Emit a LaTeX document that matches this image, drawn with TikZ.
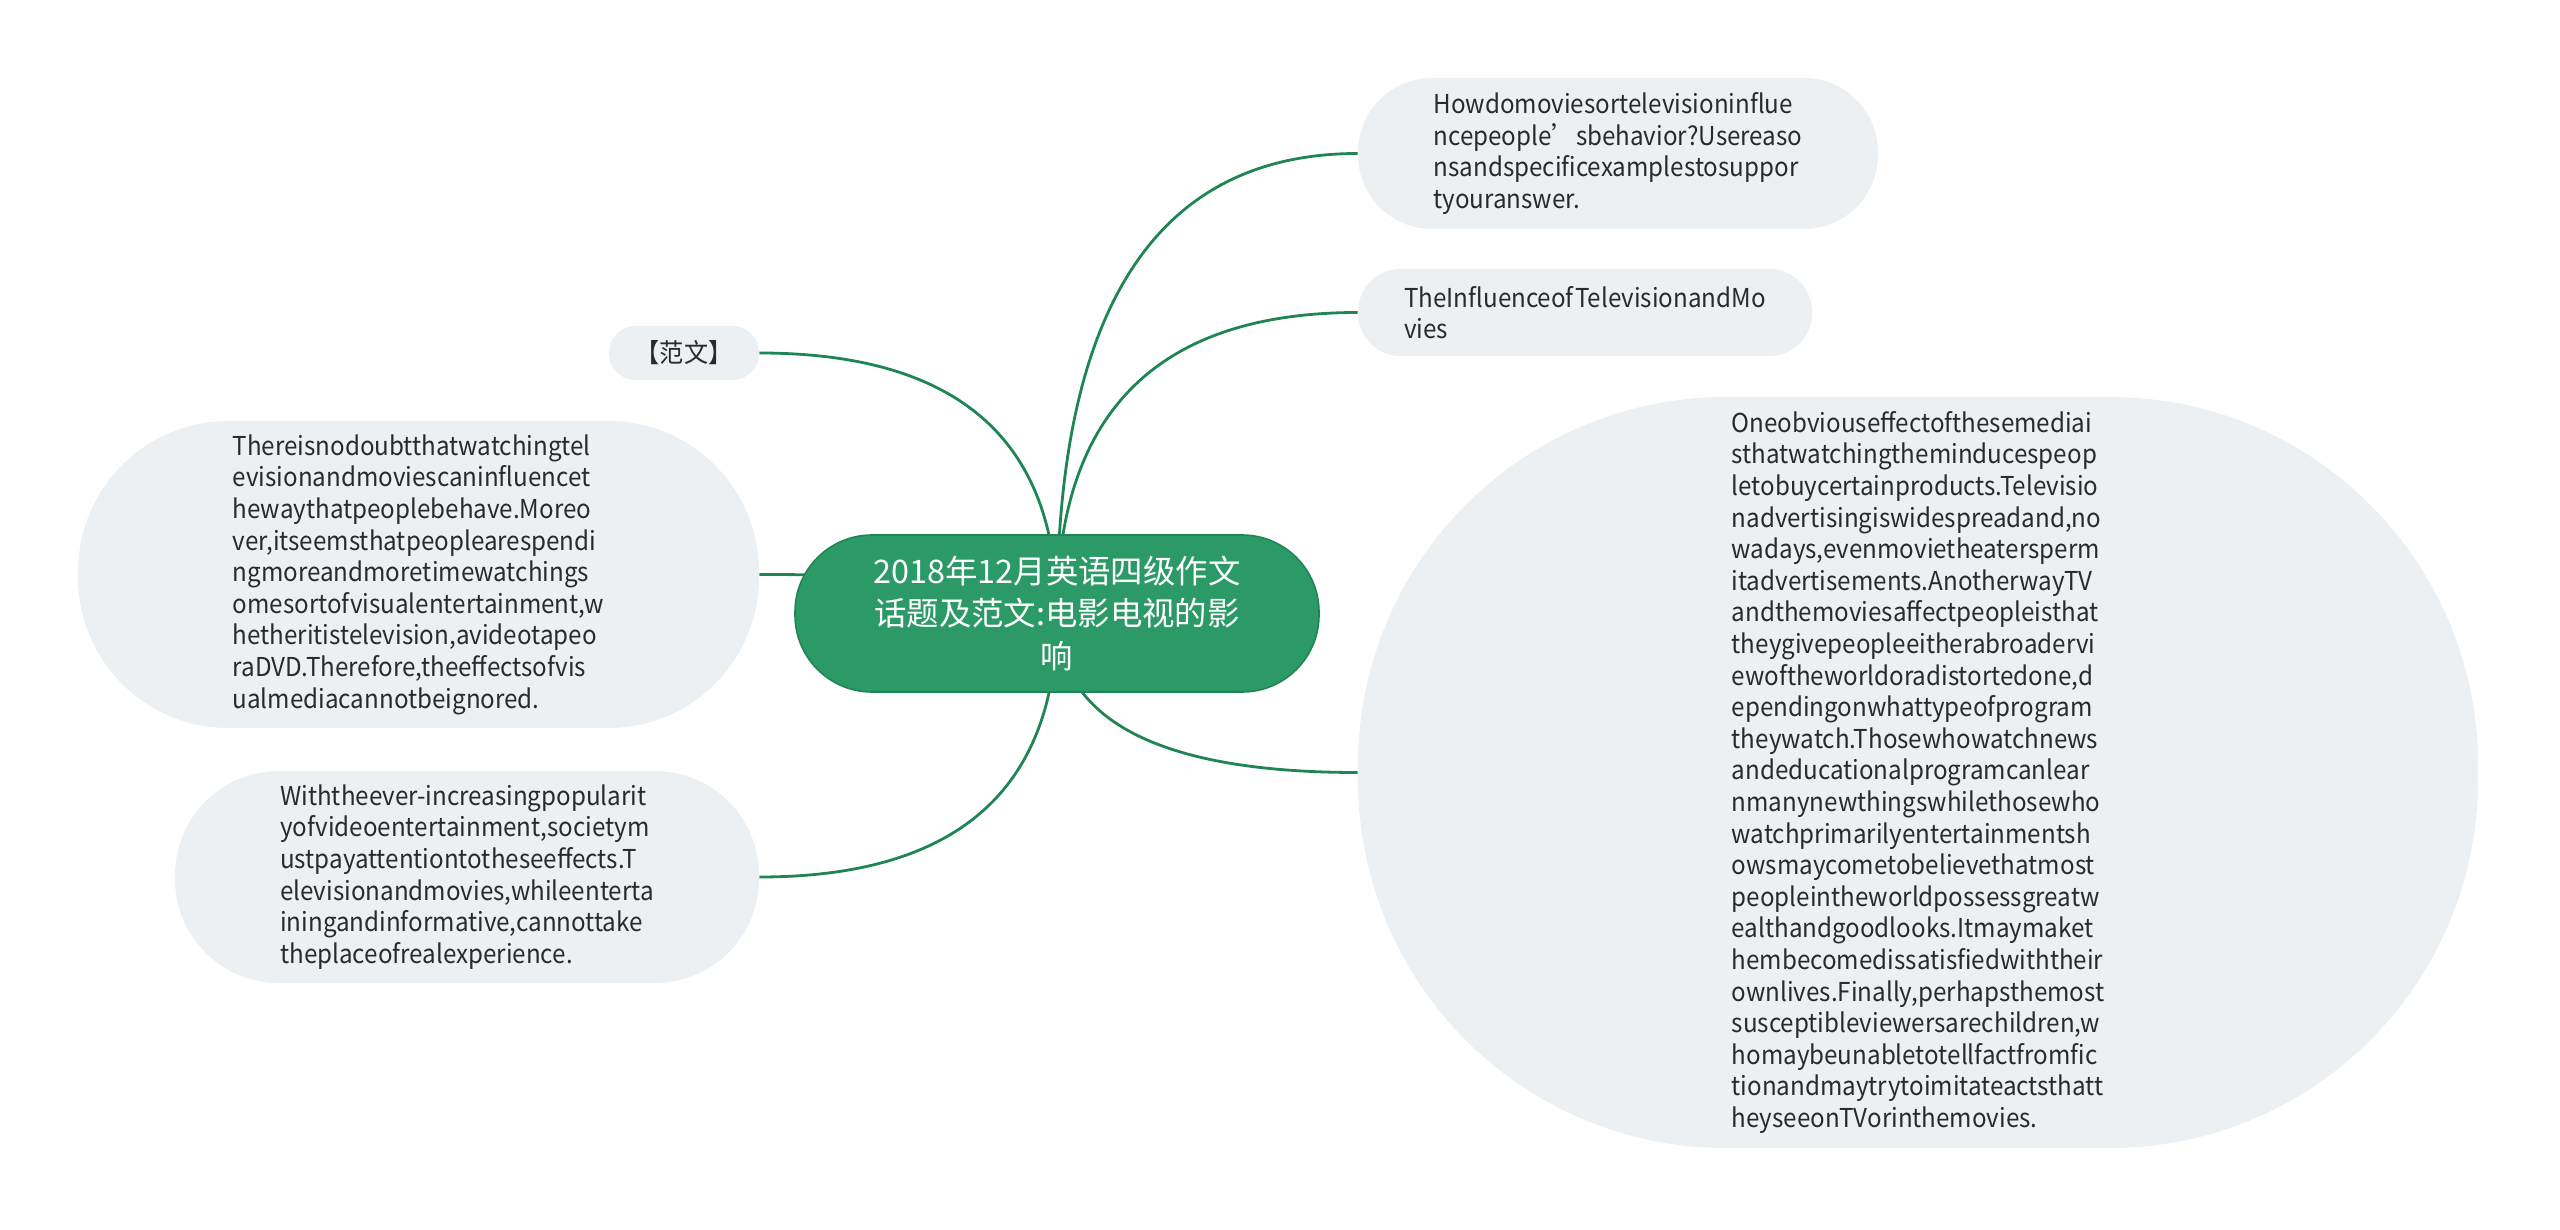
\documentclass[tikz,border=0pt]{standalone}
\usepackage{fontspec}
\setmainfont{Noto Sans CJK SC}
\newfontfamily\leaffont[FakeStretch=0.93]{Noto Sans CJK SC}
\usepackage{tikz}
\usetikzlibrary{calc,backgrounds}
\definecolor{Forest}{HTML}{2B9A66}
\definecolor{ForestDark}{HTML}{1F8553}
\definecolor{Mist}{HTML}{EDF0F3}
\definecolor{Ink}{HTML}{2A2A2A}
\newcommand{\twig}[2]{%
  \coordinate (bend) at (#1.center |- #2);
  \draw[branch] (#1.center) .. controls ($(#1.center)!0.6667!(bend)$) and ($(#2)!0.6667!(bend)$) .. (#2);}

\begin{document}
\begin{tikzpicture}[
  x=0.5pt,y=-0.5pt,
  hub/.style={fill=Forest,draw=ForestDark,line width=0.8pt,text=white,align=center,inner sep=0pt,
    font=\fontsize{16.2}{21.3}\selectfont,minimum width=262pt,minimum height=78.5pt,rounded corners=38.5pt},
  leaf/.style={fill=Mist,text=Ink,align=left,inner sep=0pt,font=\leaffont\fontsize{13}{15.8}\selectfont},
  pill/.style 2 args={minimum width=#1,minimum height=#2,rounded corners=0.49*#2},
  branch/.style={draw=ForestDark,line width=1.4pt}
]
\useasboundingbox (0,0) rectangle (2560,1230);
\node[hub] (hub) at (1057,613.5) {2018年12月英语四级作文\\话题及范文:电影电视的影\\响};
\node[leaf,pill={260pt}{75.5pt}] (ask) at (1618,153.5) {Howdomoviesortelevisioninflue\\ncepeople’sbehavior?Usereaso\\nsandspecificexamplestosuppor\\tyouranswer.};
\node[leaf,pill={227pt}{43.5pt}] (topic) at (1585,312.5) {TheInfluenceofTelevisionandMo\\vies};
\node[leaf,pill={560pt}{375.5pt}] (body) at (1918,772.5) {Oneobviouseffectofthesemediai\\sthatwatchingtheminducespeop\\letobuycertainproducts.Televisio\\nadvertisingiswidespreadand,no\\wadays,evenmovietheatersperm\\itadvertisements.AnotherwayTV\\andthemoviesaffectpeopleisthat\\theygivepeopleeitherabroadervi\\ewoftheworldoradistortedone,d\\ependingonwhattypeofprogram\\theywatch.Thosewhowatchnews\\andeducationalprogramcanlear\\nmanynewthingswhilethosewho\\watchprimarilyentertainmentsh\\owsmaycometobelievethatmost\\peopleintheworldpossessgreatw\\ealthandgoodlooks.Itmaymaket\\hembecomedissatisfiedwiththeir\\ownlives.Finally,perhapsthemost\\susceptibleviewersarechildren,w\\homaybeunabletotellfactfromfic\\tionandmaytrytoimitateactsthatt\\heyseeonTVorinthemovies.};
\node[leaf,pill={75pt}{27pt}] (tag) at (684,353) {【范文】};
\node[leaf,pill={340.5pt}{153.5pt}] (intro) at (418.5,574.5) {Thereisnodoubtthatwatchingtel\\evisionandmoviescaninfluencet\\hewaythatpeoplebehave.Moreo\\ver,itseemsthatpeoplearespendi\\ngmoreandmoretimewatchings\\omesortofvisualentertainment,w\\hetheritistelevision,avideotapeo\\raDVD.Therefore,theeffectsofvis\\ualmediacannotbeignored.};
\node[leaf,pill={292pt}{106pt}] (close) at (467,877) {Withtheever-increasingpopularit\\yofvideoentertainment,societym\\ustpayattentiontotheseeffects.T\\elevisionandmovies,whileenterta\\iningandinformative,cannottake\\theplaceofrealexperience.};
\begin{scope}[on background layer]
\twig{hub}{ask.west}
\twig{hub}{topic.west}
\twig{hub}{body.west}
\twig{hub}{tag.east}
\twig{hub}{intro.east}
\twig{hub}{close.east}
\end{scope}
\end{tikzpicture}
\end{document}
